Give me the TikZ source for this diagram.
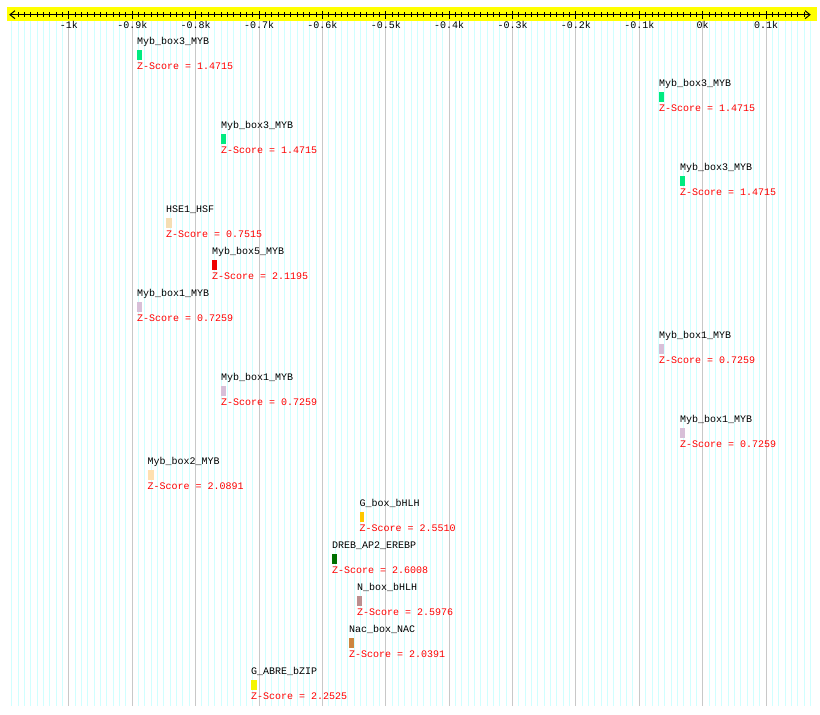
\documentclass[tikz,border=0pt]{standalone}
\usepackage{fontspec}
\setmainfont{Liberation Mono}
\definecolor{axisyellow}{RGB}{255,255,0}
\definecolor{minorgridc}{RGB}{208,255,255}
\definecolor{majorgridc}{RGB}{200,200,200}
\definecolor{zred}{RGB}{255,0,0}
\definecolor{cmybthree}{RGB}{0,235,128}
\definecolor{chse}{RGB}{245,222,179}
\definecolor{cmybfive}{RGB}{240,0,0}
\definecolor{cmybone}{RGB}{216,191,216}
\definecolor{cmybtwo}{RGB}{255,224,176}
\definecolor{cgbox}{RGB}{255,200,0}
\definecolor{cdreb}{RGB}{0,112,0}
\definecolor{cnbox}{RGB}{188,143,143}
\definecolor{cnac}{RGB}{205,133,63}
\definecolor{cabre}{RGB}{245,245,0}
\tikzset{
  txt/.style={inner sep=0pt, font=\fontsize{10}{12}\selectfont, anchor=base west},
  ticklab/.style={inner sep=0pt, font=\fontsize{10}{12}\selectfont, anchor=base},
  zlab/.style={txt, text=zred},
  motifbox/.style={inner sep=0pt, draw=none, anchor=north west, minimum height=10.3pt},
  minorgrid/.style={draw=minorgridc, line width=1pt},
  majorgrid/.style={draw=majorgridc, line width=1pt},
  axisline/.style={draw=black, line width=1pt},
}
\begin{document}
\begin{tikzpicture}[x=1pt,y=-1pt]
\useasboundingbox (0,0) rectangle (820,715);
\fill[white] (0,0) rectangle (820,715);
% grid lines
\foreach \v in {-109,...,17} {
  \draw[minorgrid] ({702.7+\v*6.338},21) -- ({702.7+\v*6.338},706);
}
\foreach \v in {-10,...,1} {
  \draw[majorgrid] ({702.7+\v*63.38},21) -- ({702.7+\v*63.38},706);
}
% axis band
\fill[axisyellow] (7.3,7.3) rectangle (817,20.7);
\coordinate (axl) at (10,14.7);
\coordinate (axr) at (810,14.7);
\draw[axisline] (axl) -- (axr);
\draw[axisline] (15,10.7) -- (axl) -- (15,18.7);
\draw[axisline] (805,10.7) -- (axr) -- (805,18.7);
% minor ticks
\foreach \v in {-108,...,16} {
  \draw[axisline] ({702.7+\v*6.338},12.3) -- ({702.7+\v*6.338},16.7);
}
% major ticks and labels
\foreach \v/\lab in {-10/-1k,-9/-0.9k,-8/-0.8k,-7/-0.7k,-6/-0.6k,-5/-0.5k,-4/-0.4k,-3/-0.3k,-2/-0.2k,-1/-0.1k,0/0k,1/0.1k} {
  \draw[axisline] ({702.7+\v*63.38},11) -- ({702.7+\v*63.38},18.7);
  \node[ticklab] (tick\v) at ({702.7+\v*63.38},28) {\lab};
}
% motifs
\foreach \i/\x/\w/\col/\name/\z in {
  1/137/4.5/cmybthree/Myb\_box3\_MYB/1.4715,
  2/659/4.5/cmybthree/Myb\_box3\_MYB/1.4715,
  3/221/4.5/cmybthree/Myb\_box3\_MYB/1.4715,
  4/680/4.5/cmybthree/Myb\_box3\_MYB/1.4715,
  5/166/6/chse/HSE1\_HSF/0.7515,
  6/212/5/cmybfive/Myb\_box5\_MYB/2.1195,
  7/137/4.5/cmybone/Myb\_box1\_MYB/0.7259,
  8/659/4.5/cmybone/Myb\_box1\_MYB/0.7259,
  9/221/4.5/cmybone/Myb\_box1\_MYB/0.7259,
  10/680/4.5/cmybone/Myb\_box1\_MYB/0.7259,
  11/147.5/6/cmybtwo/Myb\_box2\_MYB/2.0891,
  12/359.3/4.5/cgbox/G\_box\_bHLH/2.5510,
  13/332/4.7/cdreb/DREB\_AP2\_EREBP/2.6008,
  14/357/4.7/cnbox/N\_box\_bHLH/2.5976,
  15/349/4.7/cnac/Nac\_box\_NAC/2.0391,
  16/251/5.7/cabre/G\_ABRE\_bZIP/2.2525} {
  \pgfmathsetmacro\yr{49.3+42*(\i-1)}
  \node[motifbox, fill=\col, minimum width=\w pt] (box\i) at (\x,\yr) {};
  \node[txt] (name\i) at (\x,\yr-4.5) {\name};
  \node[zlab] (z\i) at (\x,\yr+19.7) {Z-Score = \z};
}
\end{tikzpicture}
\end{document}
